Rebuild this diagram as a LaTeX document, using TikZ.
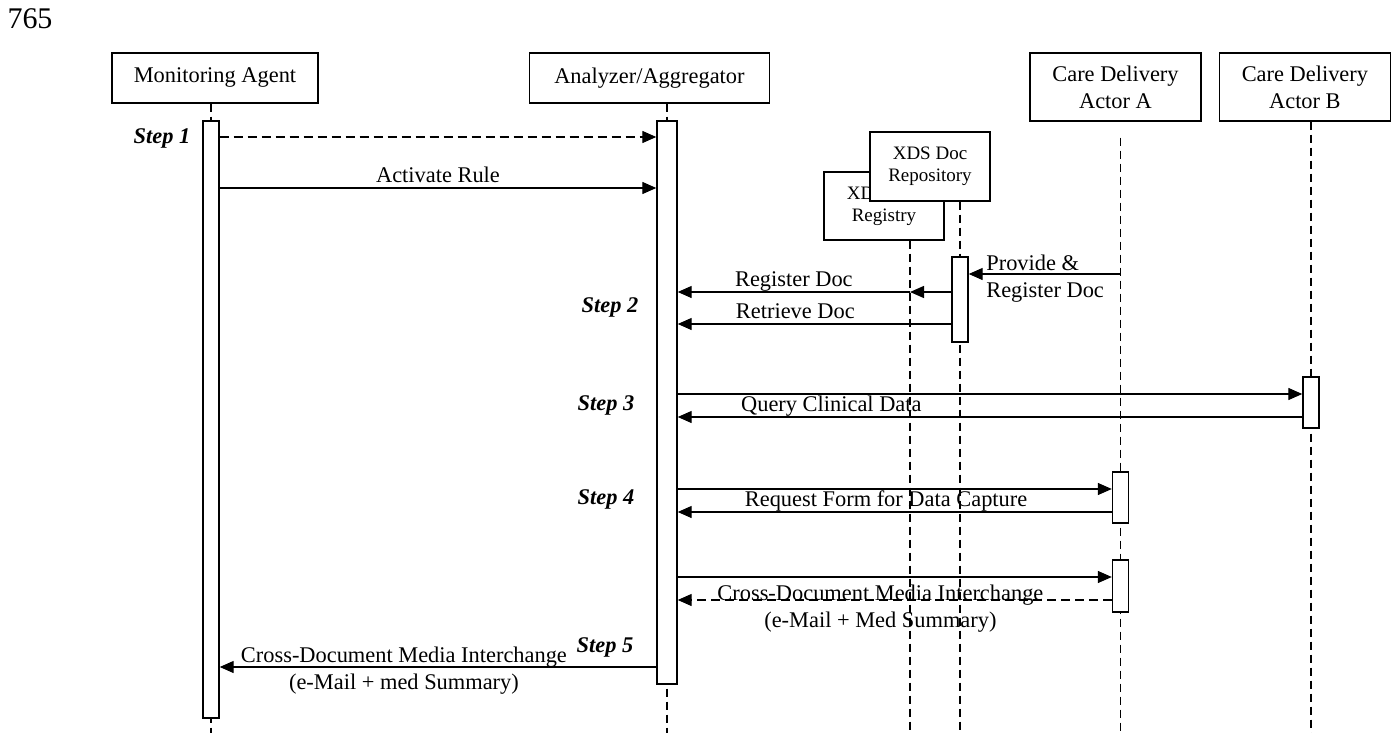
\documentclass[tikz,border=0pt]{standalone}
\usepackage{fontspec}
\setmainfont{Liberation Serif}
\usepackage{tikz}
\usetikzlibrary{arrows.meta, positioning, backgrounds}
\tikzset{
x=1pt, y=1pt, % one unit is one pixel of the figure
>={Triangle[length=14pt,width=12pt]}, % filled arrow heads
every node/.style={font=\fontsize{22.4}{27}\selectfont, inner sep=1pt},
actor/.style={draw, line width=1.4pt, fill=white, align=center, inner sep=0pt, minimum height=50pt}, % head of a lifeline
xds/.style={actor, minimum width=120pt, font=\fontsize{19}{22}\selectfont},
bar/.style={draw, line width=1.4pt, fill=white, minimum width=16pt, inner sep=0pt}, % activation bar
life/.style={line width=1.1pt, dash pattern=on 8pt off 5pt}, % lifeline
msg/.style={->, line width=1.3pt},
rmsg/.style={msg, dash pattern=on 9pt off 5pt}, % dashed message
lbl/.style={above=4pt, text depth=0pt}, % label sitting on a message
steplbl/.style={font=\fontsize{22.4}{27}\selectfont\bfseries\itshape},
}
\begin{document}
\begin{tikzpicture}
    \useasboundingbox (0,0) rectangle (1392,-733);
    \node[font=\fontsize{30}{36}\selectfont] (fig) at (30,-18.5) {765};

    \node[actor, minimum width=206pt] (ma) at (215,-78) {Monitoring Agent};
    \node[actor, minimum width=240pt, right=210pt of ma] (aa) {Analyzer/Aggregator};
    \node[actor, minimum width=171pt, minimum height=68pt] (cda) at (1115.5,-87) {Care Delivery\\Actor A};
    \node[actor, minimum width=171pt, minimum height=68pt, right=17pt of cda] (cdb) {Care Delivery\\Actor B};
    \node[xds, minimum height=68pt] (reg) at (884,-206) {XDS Doc\\Registry};
    \node[xds, minimum height=69pt] (rep) at (930,-166.5) {XDS Doc\\Repository};

    \node[bar, minimum height=597pt] (ma1) at (211,-419.5) {};
    \node[bar, minimum width=20pt, minimum height=563pt] (aa1) at (667,-402.5) {};
    \node[bar, minimum height=85pt] (rep1) at (960,-299.5) {};
    \node[bar, minimum height=51pt] (cdb1) at (1311,-402.5) {};
    \node[bar, minimum height=51pt] (cda1) at (1120.5,-497.5) {};
    \node[bar, minimum height=52pt] (cda2) at (1120.5,-586) {};

    \path (0,-137) coordinate (s1) (0,-188) coordinate (s2) (0,-274) coordinate (s3)
          (0,-292) coordinate (s4) (0,-324) coordinate (s5) (0,-394) coordinate (s6)
          (0,-417) coordinate (s7) (0,-489) coordinate (s8) (0,-512) coordinate (s9)
          (0,-577) coordinate (s10) (0,-600) coordinate (s11) (0,-667) coordinate (s12)
          (0,-733) coordinate (end);
    \coordinate (reg0) at ([xshift=26pt]reg.south);

    \begin{pgfonlayer}{background}
        \foreach \a/\b in {ma/ma1, aa/aa1, rep/rep1, cdb/cdb1}
            \draw[life] (\b |- \a.south) -- (\b |- end);
        \draw[life] (cda1 |- cda.south) ++(0,-16) -- (cda1 |- end);
        \draw[life] (reg0) -- (reg0 |- end);
    \end{pgfonlayer}

    \node[steplbl] (st1) at (162,-138) {Step 1};
    \node[steplbl] (st2) at (610,-307) {Step 2};
    \node[steplbl] (st3) at (606,-405) {Step 3};
    \node[steplbl] (st4) at (606,-499) {Step 4};
    \node[steplbl] (st5) at (605,-647) {Step 5};

    \draw[rmsg] (ma1.east |- s1) -- (aa1.west |- s1);
    \draw[msg] (ma1.east |- s2) -- node[lbl] {Activate Rule} (aa1.west |- s2);
    \draw[msg] (cda1 |- s3) -- node[pos=1, anchor=west, xshift=16pt, yshift=-4.5pt, align=left] {Provide \&\\Register Doc} (rep1.east |- s3);
    \draw[msg] (rep1.west |- s4) -- (reg0 |- s4);
    \draw[msg] (reg0 |- s4) -- node[lbl] {Register Doc} (aa1.east |- s4);
    \draw[msg] (rep1.west |- s5) -- node[lbl, pos=0.57] {Retrieve Doc} (aa1.east |- s5);
    \draw[msg] (aa1.east |- s6) -- (cdb1.west |- s6);
    \draw[msg] (cdb1.west |- s7) -- node[lbl, pos=0.754] {Query Clinical Data} (aa1.east |- s7);
    \draw[msg] (aa1.east |- s8) -- (cda1.west |- s8);
    \draw[msg] (cda1.west |- s9) -- node[lbl, pos=0.52] {Request Form for Data Capture} (aa1.east |- s9);
    \draw[msg] (aa1.east |- s10) -- (cda2.west |- s10);
    \draw[rmsg] (cda2.west |- s11) -- node[pos=0.533, yshift=-9pt, align=center] {Cross-Document Media Interchange\\(e-Mail + Med Summary)} (aa1.east |- s11);
    \draw[msg] (aa1.west |- s12) -- node[pos=0.578, yshift=-4pt, align=center] {Cross-Document Media Interchange\\(e-Mail + med Summary)} (ma1.east |- s12);
\end{tikzpicture}
\end{document}
